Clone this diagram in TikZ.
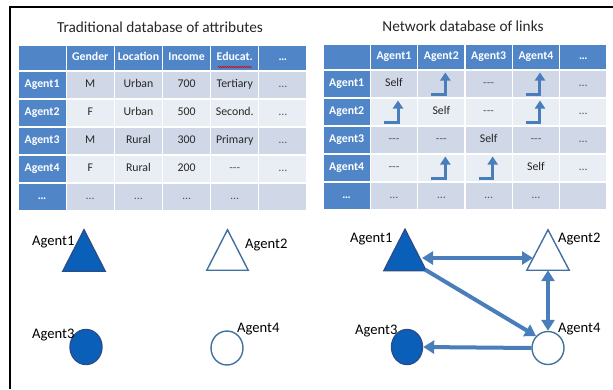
\documentclass[tikz,border=0pt]{standalone}
\usepackage{fontspec}
\setmainfont{Carlito}
\usetikzlibrary{arrows.meta,decorations.pathmorphing,shapes.geometric}
\definecolor{hdr}{RGB}{80,134,200}
\definecolor{bandA}{RGB}{208,216,232}
\definecolor{bandB}{RGB}{233,237,244}
\definecolor{txtgray}{RGB}{38,38,38}
\definecolor{dotgray}{RGB}{90,90,90}
\definecolor{shapefill}{RGB}{10,96,185}
\definecolor{shapeline}{RGB}{40,78,140}
\definecolor{hollowline}{RGB}{65,113,160}
\definecolor{linkblue}{RGB}{74,126,187}
\newcommand\nolink{{\color{dotgray}-\kern0pt-\kern0pt-}}
\newcommand\bdots{{\color{dotgray}…}}
\tikzset{
  cellbox/.style={draw=white, line width=1.2pt, inner sep=0pt, text height=8.4pt, text depth=2.6pt},
  wL/.style={minimum width=48.17pt},
  wR/.style={minimum width=47.33pt},
  hdrtxt/.style={text=white, font=\fontsize{11.8}{13}\selectfont\bfseries},
  bodytxt/.style={text=txtgray, font=\fontsize{11.8}{13}\selectfont},
  titletxt/.style={text=txtgray, font=\fontsize{15.3}{18}\selectfont, inner sep=0pt},
  lbl/.style={text=black, font=\fontsize{14.6}{17}\selectfont, inner sep=0pt},
  shapebox/.style={inner sep=0pt, minimum width=42pt, minimum height=41pt},
  solidshape/.style={fill=shapefill, draw=shapeline, line width=1.4pt},
  hollowshape/.style={fill=white, draw=hollowline, line width=1.4pt},
  blob/.style={ellipse, inner sep=0pt, minimum width=32pt, minimum height=35pt},
  link/.style={draw=linkblue, line width=4pt, -{Triangle[length=11pt,width=13pt]}},
  linkboth/.style={draw=linkblue, line width=4pt, {Triangle[length=11pt,width=13pt]}-{Triangle[length=11pt,width=13pt]}},
  bentarr/.style={draw=linkblue, line width=3pt, -{Triangle[length=8pt,width=10pt]}},
}
\begin{document}
\begin{tikzpicture}[x=1pt,y=-1pt]
\useasboundingbox (0,0) rectangle (613,389);
% frame
\draw[line width=1.6pt] (10,389) -- (10,7) -- (613,7);
% titles
\node[titletxt] (t1) at (160,27) {Traditional database of attributes};
\node[titletxt] (t2) at (463,26) {Network database of links};

% ---------- left table ----------
\foreach \t [count=\c from 0] in {{},Gender,Location,Income,Educat.,…}
  \node[cellbox, fill=hdr, hdrtxt, wL, minimum height=26pt] (L0\c) at ({18+48.17*(\c+0.5)},58) {\t};
\foreach \r/\band/\va/\vb/\vc/\vd/\ve in {
  1/bandA/M/Urban/700/Tertiary/\bdots,
  2/bandB/F/Urban/500/Second./\bdots,
  3/bandA/M/Rural/300/Primary/\bdots,
  4/bandB/F/Rural/200/\nolink/\bdots,
  5/bandA/\bdots/\bdots/\bdots/\bdots/{}}{
  \node[cellbox, fill=hdr, hdrtxt, wL, minimum height=28pt] (L\r0) at ({18+48.17*0.5},{57+28*\r}) {\ifnum\r=5 …\else Agent\r\fi};
  \foreach \t [count=\c] in {\va,\vb,\vc,\vd,\ve}
    \node[cellbox, fill=\band, bodytxt, wL, minimum height=28pt] (L\r\c) at ({18+48.17*(\c+0.5)},{57+28*\r}) {\t};
}
\draw[red!85!black, line width=0.6pt, decorate, decoration={snake, amplitude=0.6pt, segment length=2.2pt}]
  ([shift={(-17,9)}]L04.center) -- ([shift={(17,9)}]L04.center);

% ---------- right table ----------
\foreach \t [count=\c from 0] in {{},Agent1,Agent2,Agent3,Agent4,…}
  \node[cellbox, fill=hdr, hdrtxt, wR, minimum height=26pt] (R0\c) at ({323+47.33*(\c+0.5)},57) {\t};
\foreach \r/\band/\va/\vb/\vc/\vd/\ve in {
  1/bandA/Self/{}/\nolink/{}/\bdots,
  2/bandB/{}/Self/\nolink/{}/\bdots,
  3/bandA/\nolink/\nolink/Self/\nolink/\bdots,
  4/bandB/\nolink/{}/{}/Self/\bdots,
  5/bandA/\bdots/\bdots/\bdots/\bdots/{}}{
  \node[cellbox, fill=hdr, hdrtxt, wR, minimum height=28pt] (R\r0) at ({323+47.33*0.5},{56+28*\r}) {\ifnum\r=5 …\else Agent\r\fi};
  \foreach \t [count=\c] in {\va,\vb,\vc,\vd,\ve}
    \node[cellbox, fill=\band, bodytxt, wR, minimum height=28pt] (R\r\c) at ({323+47.33*(\c+0.5)},{56+28*\r}) {\t};
}
\foreach \n in {R12,R14,R21,R24,R42,R43}
  \draw[bentarr] ([shift={(-10,10.5)}]\n.center) -- ([shift={(4,10.5)}]\n.center) -- ([shift={(4,-11.5)}]\n.center);

% ---------- left graph (no links) ----------
\node[shapebox] (l1) at (84,250.5) {};
\filldraw[solidshape] (l1.north) -- (l1.south east) -- (l1.south west) -- cycle;
\node[shapebox, minimum width=41pt, minimum height=40pt] (l2) at (227.5,250) {};
\filldraw[hollowshape] (l2.north) -- (l2.south east) -- (l2.south west) -- cycle;
\node[blob, solidshape] (l3) at (86,347) {};
\node[blob, hollowshape, minimum height=34pt] (l4) at (227,348) {};
\node[lbl, anchor=base west] (l1t) at (32,245) {Agent1};
\node[lbl, anchor=base west] (l2t) at (245,248) {Agent2};
\node[lbl, anchor=base west] (l3t) at (32,338) {Agent3};
\node[lbl, anchor=base west] (l4t) at (237,332) {Agent4};

% ---------- right graph (links) ----------
\node[shapebox] (r1) at (405,250) {};
\filldraw[solidshape] (r1.north) -- (r1.south east) -- (r1.south west) -- cycle;
\node[shapebox, minimum height=40pt] (r2) at (548,250) {};
\filldraw[hollowshape] (r2.north) -- (r2.south east) -- (r2.south west) -- cycle;
\node[blob, solidshape, minimum width=31pt] (c3) at (407,347) {};
\node[blob, hollowshape, minimum height=33pt] (c4) at (548,348) {};
\node[lbl, anchor=base west] (r1t) at (350,242) {Agent1};
\node[lbl, anchor=base west] (r2t) at (558,242) {Agent2};
\node[lbl, anchor=base west] (c3t) at (355,334) {Agent3};
\node[lbl, anchor=base west] (c4t) at (558,332) {Agent4};

\draw[linkboth] ([shift={(17,8)}]r1.center) -- ([shift={(-15,8)}]r2.center);
\draw[link] ([shift={(-1,-1)}]r1.south east) -- (c4.135);
\draw[linkboth] (r2.south) -- (c4.north);
\draw[link] (c4.west) -- (c3.east);
\end{tikzpicture}
\end{document}
